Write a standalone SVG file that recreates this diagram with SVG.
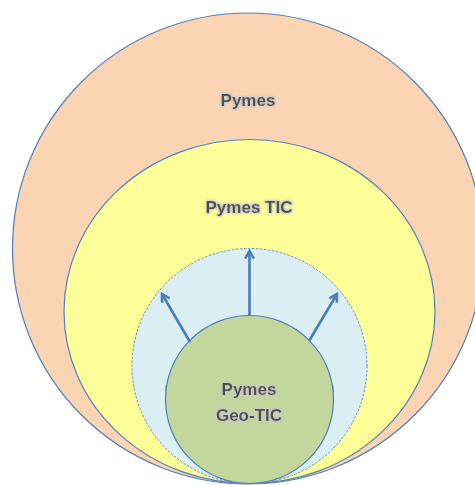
<svg xmlns="http://www.w3.org/2000/svg" width="475" height="485" viewBox="0 0 475 485">
<style>
.edge{stroke:#4F81BD;stroke-width:1.2}
.lbl{font-family:"Liberation Sans",Arial,sans-serif;font-weight:bold;font-size:17px;fill:#505050;text-anchor:middle;filter:url(#glow)}
.arrow{stroke:#4A7EBB;stroke-width:2.6;fill:none;marker-end:url(#ah)}
</style>
<defs>
<filter id="glow" x="-20%" y="-40%" width="140%" height="180%">
<feMorphology in="SourceAlpha" operator="dilate" radius="1" result="d"/>
<feGaussianBlur in="d" stdDeviation="0.8" result="b"/>
<feFlood flood-color="#c8c8c8" result="c"/>
<feComposite in="c" in2="b" operator="in" result="g"/>
<feMerge><feMergeNode in="g"/><feMergeNode in="SourceGraphic"/></feMerge>
</filter>
<marker id="ah" viewBox="0 0 10 10" refX="8" refY="5" markerWidth="4.2" markerHeight="4.2" orient="auto" markerUnits="strokeWidth">
<path d="M1,1 L8,5 L1,9" fill="none" stroke="#4A7EBB" stroke-width="2.4"/>
</marker>
<clipPath id="lower"><rect x="0" y="385" width="475" height="100"/></clipPath>
</defs>
<g id="pymes">
<circle class="edge" cx="248" cy="248.5" r="235.5" fill="#FBD4B4"/>
</g>
<g id="pymes-tic">
<ellipse class="edge" cx="249.5" cy="311.5" rx="185.5" ry="172" fill="#FFFF99"/>
</g>
<g id="zona">
<circle cx="249.5" cy="366" r="117.5" fill="#DBEEF4" stroke="#4F81BD" stroke-width="0.9" stroke-dasharray="2.5,1.5"/>
</g>
<g id="pymes-geo-tic">
<ellipse cx="249.5" cy="390" rx="84" ry="93" fill="none" stroke="#4F81BD" stroke-width="0.8" opacity="0.7" clip-path="url(#lower)"/>
<circle class="edge" cx="249.5" cy="399.5" r="84" fill="#C3D69B"/>
</g>
<g id="connectors">
<line class="arrow" x1="249.5" y1="316" x2="249.5" y2="251"/>
<line class="arrow" x1="190" y1="342" x2="162" y2="294"/>
<line class="arrow" x1="309" y1="341" x2="337" y2="294"/>
</g>
<g id="labels">
<text class="lbl" x="248" y="106">Pymes</text>
<text class="lbl" x="249" y="213">Pymes TIC</text>
<text class="lbl" x="249" y="395">Pymes</text>
<text class="lbl" x="249" y="421">Geo-TIC</text>
</g>
</svg>
